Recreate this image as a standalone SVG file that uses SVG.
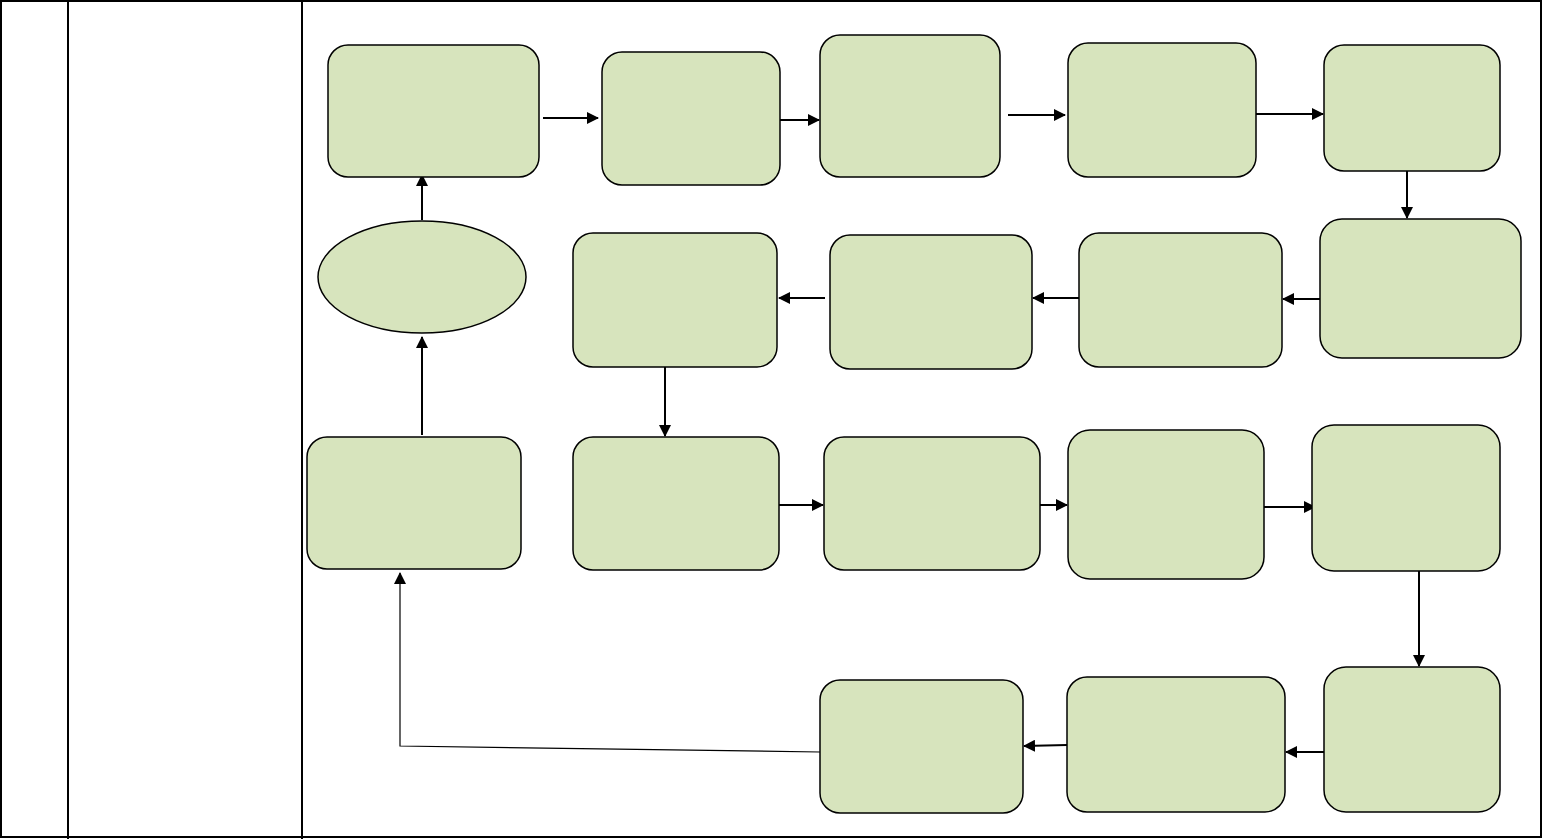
<svg xmlns="http://www.w3.org/2000/svg" width="1543" height="839" viewBox="0 0 1543 839">
<style>
.tbl{fill:none;stroke:#000;stroke-width:2}
.n{fill:#d7e4bd;stroke:#000;stroke-width:1.5}
.c{fill:none;stroke:#000;stroke-width:2}
.t{fill:none;stroke:#000;stroke-width:1.2}
</style>
<defs>
<marker id="ah" markerUnits="userSpaceOnUse" markerWidth="12" markerHeight="12" viewBox="0 0 12 12" refX="11" refY="6" orient="auto">
<path d="M0,0 L12,6 L0,12 Z" fill="#000"/>
</marker>
</defs>
<rect width="1543" height="839" fill="#fff"/>
<g id="table">
<rect class="tbl" x="1" y="1" width="1540" height="836"/>
<line class="tbl" x1="68" y1="0" x2="68" y2="839"/>
<line class="tbl" x1="302" y1="0" x2="302" y2="839"/>
</g>
<g id="connectors">
<line class="c" x1="543" y1="118" x2="598" y2="118" marker-end="url(#ah)"/>
<line class="c" x1="780" y1="120" x2="819" y2="120" marker-end="url(#ah)"/>
<line class="c" x1="1008" y1="115" x2="1065" y2="115" marker-end="url(#ah)"/>
<line class="c" x1="1256" y1="114" x2="1323" y2="114" marker-end="url(#ah)"/>
<line class="c" x1="1407" y1="171" x2="1407" y2="218" marker-end="url(#ah)"/>
<line class="c" x1="1320" y1="299" x2="1283" y2="299" marker-end="url(#ah)"/>
<line class="c" x1="1079" y1="298" x2="1033" y2="298" marker-end="url(#ah)"/>
<line class="c" x1="825" y1="298" x2="779" y2="298" marker-end="url(#ah)"/>
<line class="c" x1="665" y1="367" x2="665" y2="436" marker-end="url(#ah)"/>
<line class="c" x1="779" y1="505" x2="823" y2="505" marker-end="url(#ah)"/>
<line class="c" x1="1040" y1="505" x2="1067" y2="505" marker-end="url(#ah)"/>
<line class="c" x1="1264" y1="507" x2="1315" y2="507" marker-end="url(#ah)"/>
<line class="c" x1="1419" y1="571" x2="1419" y2="666" marker-end="url(#ah)"/>
<line class="c" x1="1324" y1="752" x2="1286" y2="752" marker-end="url(#ah)"/>
<line class="c" x1="1067" y1="745" x2="1024" y2="746" marker-end="url(#ah)"/>
<polyline class="t" points="820,752 400,746 400,573" marker-end="url(#ah)"/>
<line class="c" x1="422" y1="435" x2="422" y2="337" marker-end="url(#ah)"/>
<line class="c" x1="422" y1="220" x2="422" y2="175" marker-end="url(#ah)"/>
</g>
<g id="nA"><rect class="n" x="328" y="45" width="211" height="132" rx="20"/></g>
<g id="nB"><rect class="n" x="602" y="52" width="178" height="133" rx="20"/></g>
<g id="nC"><rect class="n" x="820" y="35" width="180" height="142" rx="20"/></g>
<g id="nD"><rect class="n" x="1068" y="43" width="188" height="134" rx="20"/></g>
<g id="nE"><rect class="n" x="1324" y="45" width="176" height="126" rx="20"/></g>
<g id="nF"><rect class="n" x="1320" y="219" width="201" height="139" rx="22"/></g>
<g id="nG"><rect class="n" x="1079" y="233" width="203" height="134" rx="20"/></g>
<g id="nH"><rect class="n" x="830" y="235" width="202" height="134" rx="20"/></g>
<g id="nI"><rect class="n" x="573" y="233" width="204" height="134" rx="20"/></g>
<g id="nEllipse"><ellipse class="n" cx="422" cy="277" rx="104" ry="56"/></g>
<g id="nJ"><rect class="n" x="307" y="437" width="214" height="132" rx="20"/></g>
<g id="nK"><rect class="n" x="573" y="437" width="206" height="133" rx="20"/></g>
<g id="nL"><rect class="n" x="824" y="437" width="216" height="133" rx="20"/></g>
<g id="nM"><rect class="n" x="1068" y="430" width="196" height="149" rx="22"/></g>
<g id="nN"><rect class="n" x="1312" y="425" width="188" height="146" rx="22"/></g>
<g id="nO"><rect class="n" x="1324" y="667" width="176" height="145" rx="22"/></g>
<g id="nP"><rect class="n" x="1067" y="677" width="218" height="135" rx="20"/></g>
<g id="nQ"><rect class="n" x="820" y="680" width="203" height="133" rx="20"/></g>
</svg>
